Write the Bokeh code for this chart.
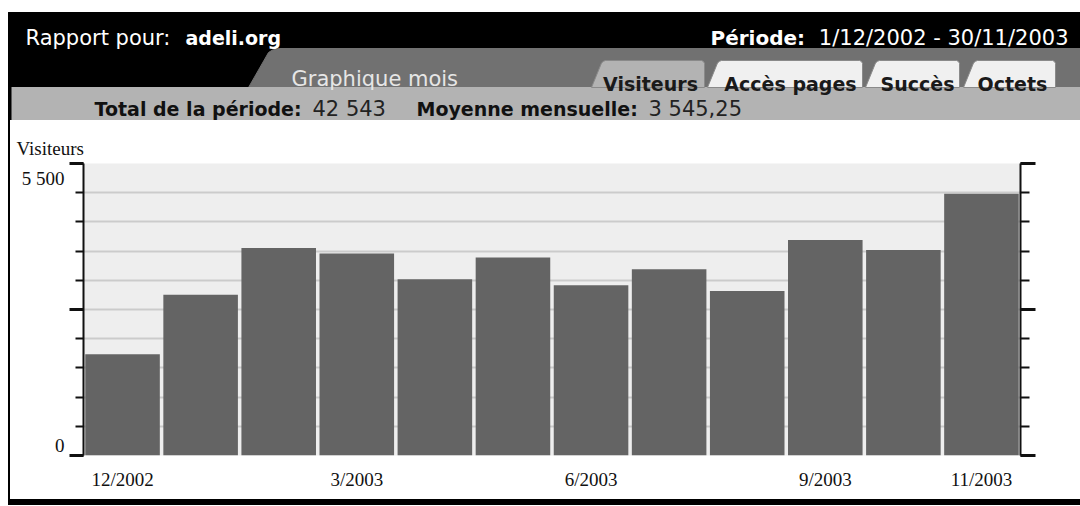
from bokeh.plotting import figure
from bokeh.models import Range1d, FixedTicker, LinearAxis, Spacer
from bokeh.layouts import column, row
from bokeh.core.properties import value
from bokeh.embed import file_html
from bokeh.resources import INLINE

# ---------------- data ----------------
months = ["12/2002", "1/2003", "2/2003", "3/2003", "4/2003", "5/2003",
          "6/2003", "7/2003", "8/2003", "9/2003", "10/2003", "11/2003"]
visitors = [1905, 3030, 3910, 3805, 3320, 3730, 3205, 3510, 3100, 4060, 3870, 4930]
shown_month_labels = ["12/2002", "3/2003", "6/2003", "9/2003", "11/2003"]
y_max = 5500
y_major = [0, 2750, 5500]
y_minor = [0, 550, 1100, 1650, 2200, 2750, 3300, 3850, 4400, 4950, 5500]
y_grid = [550, 1100, 1650, 2200, 2750, 3300, 3850, 4400, 4950]
# tick labels sit just inside the axis ends (below the top tick, above the zero tick)
y_label_pos = [180, 5218]
y_label_text = ["0", "5 500"]
y_title = "Visiteurs"

report_label = "Rapport pour:"
report_site = "adeli.org"
period_label = "Période:"
period_value = "1/12/2002 - 30/11/2003"
view_tab = "Graphique mois"
tabs = ["Visiteurs", "Accès pages", "Succès", "Octets"]
total_label = "Total de la période:"
total_value = "42 543"
mean_label = "Moyenne mensuelle:"
mean_value = "3 545,25"

SANS = "DejaVu Sans"
SERIF = "Liberation Serif"

# ---------------- header ----------------
W = 1080
HH = 120
h = figure(width=W, height=HH, x_range=Range1d(0, W), y_range=Range1d(HH, 0),
           output_backend="svg", toolbar_location=None, min_border=0,
           x_axis_location=None, y_axis_location=None,
           background_fill_color="white", border_fill_color="white",
           outline_line_color=None)
h.grid.visible = False

# black header + tab row
h.quad(left=8, right=W, top=12, bottom=87, color="black")
# grey region of the tab row
h.patch([248, 268, 272, 279, W, W], [87, 52, 49.5, 48, 48, 87], color="#717171")
# grey band
h.quad(left=8, right=W, top=87, bottom=HH, color="#b3b3b3")
# left border
h.quad(left=8, right=10.5, top=12, bottom=HH, color="black")

def tab_shape(L, R, top=60, bot=87):
    return ([L, L + 10, L + 12, L + 14, R - 3, R - 1, R, R],
            [bot, top + 2.5, top + 0.8, top, top, top + 1, top + 3, bot])

tab_edges = [(591, 704), (707, 862), (865, 959), (963, 1055)]
tab_colors = ["#b3b3b3", "#f0f0f0", "#f0f0f0", "#f0f0f0"]
txs, tys = [], []
for L, R in tab_edges:
    a, b = tab_shape(L, R)
    txs.append(a)
    tys.append(b)
h.patches(txs, tys, fill_color=tab_colors, line_color="#8a8a8a", line_width=1)

tab_centres = [650, 790, 917, 1012]
h.text(x=tab_centres, y=[83.5] * 4, text=tabs,
       text_font=value(SANS), text_font_size=value("19px"), text_font_style="bold",
       text_color="#1a1a1a", text_align="center", text_baseline="alphabetic")

# header texts
h.text(x=[25], y=[37], text=[report_label], text_font=value(SANS),
       text_font_size=value("21px"), text_color="white", text_baseline="alphabetic")
h.text(x=[185], y=[37], text=[report_site], text_font=value(SANS),
       text_font_size=value("19px"), text_font_style="bold", text_color="white",
       text_baseline="alphabetic")
h.text(x=[710], y=[37], text=[period_label], text_font=value(SANS),
       text_font_size=value("20px"), text_font_style="bold", text_color="white",
       text_baseline="alphabetic")
h.text(x=[1068], y=[37], text=[period_value], text_font=value(SANS),
       text_font_size=value("21px"), text_color="white", text_align="right",
       text_baseline="alphabetic")
h.text(x=[291], y=[78], text=[view_tab], text_font=value(SANS),
       text_font_size=value("21px"), text_color="#e6e6e6", text_baseline="alphabetic")

# band texts
h.text(x=[94, 416], y=[108, 108], text=[total_label, mean_label], text_font=value(SANS),
       text_font_size=value("19px"), text_font_style="bold", text_color="#111111",
       text_baseline="alphabetic")
h.text(x=[312, 648], y=[108, 108], text=[total_value, mean_value], text_font=value(SANS),
       text_font_size=value("21px"), text_color="#222222", text_baseline="alphabetic")

# ---------------- chart ----------------
CW = 1070
CH = 379
xs = list(range(len(months)))
p = figure(width=CW, height=CH,
           x_range=Range1d(-0.5, len(months) - 0.5),
           y_range=Range1d(0, y_max),
           output_backend="svg", toolbar_location=None,
           min_border_left=73, min_border_right=60, min_border_top=43, min_border_bottom=44,
           background_fill_color="#eeeeee", border_fill_color="white",
           outline_line_color=None)

p.vbar(x=xs, top=visitors, width=0.955, fill_color="#646464", line_color=None)

p.title.text = y_title
p.title.align = "left"
p.title.offset = -67
p.title.standoff = 10
p.title.text_font = SERIF
p.title.text_font_size = "19px"
p.title.text_font_style = "normal"
p.title.text_color = "#111111"

p.xgrid.visible = False
p.ygrid.ticker = FixedTicker(ticks=y_grid)
p.ygrid.grid_line_color = "#cbcbcb"
p.ygrid.grid_line_width = 2

def style_ticks(ax, major_out, minor_out):
    ax.ticker = FixedTicker(ticks=y_major, minor_ticks=y_minor)
    ax.major_label_text_color = None
    ax.major_label_text_font_size = "1px"
    ax.major_label_standoff = 0
    ax.axis_line_color = "#111111"
    ax.axis_line_width = 2
    ax.major_tick_line_color = "#111111"
    ax.major_tick_line_width = 3
    ax.minor_tick_line_color = "#111111"
    ax.minor_tick_line_width = 2
    ax.major_tick_in = 0
    ax.minor_tick_in = 0
    ax.major_tick_out = major_out
    ax.minor_tick_out = minor_out

style_ticks(p.yaxis[0], 14, 8)

label_axis = LinearAxis(ticker=FixedTicker(ticks=y_label_pos, minor_ticks=[]))
label_axis.major_label_overrides = dict(zip(y_label_pos, y_label_text))
label_axis.axis_line_color = None
label_axis.major_tick_line_color = None
label_axis.minor_tick_line_color = None
label_axis.major_tick_out = 0
label_axis.major_tick_in = 0
label_axis.minor_tick_out = 0
label_axis.minor_tick_in = 0
label_axis.major_label_standoff = 5
label_axis.major_label_text_font = SERIF
label_axis.major_label_text_font_size = "19px"
label_axis.major_label_text_color = "#111111"
p.add_layout(label_axis, "left")

right_axis = LinearAxis()
style_ticks(right_axis, 15, 9)
p.add_layout(right_axis, "right")

xa = p.xaxis[0]
xa.ticker = FixedTicker(ticks=[months.index(m) for m in shown_month_labels], minor_ticks=[])
xa.major_label_overrides = {months.index(m): m for m in shown_month_labels}
xa.axis_line_color = None
xa.major_tick_line_color = None
xa.minor_tick_line_color = None
xa.major_tick_out = 0
xa.major_label_standoff = 13
xa.major_label_text_font = SERIF
xa.major_label_text_font_size = "19px"
xa.major_label_text_color = "#111111"

left_gap = Spacer(width=8, height=CH)
left_border = Spacer(width=2, height=CH, styles={"background-color": "#000000"})
bottom_gap = Spacer(width=8, height=6)
bottom_bar = Spacer(width=W - 8, height=6, styles={"background-color": "#000000"})

layout = column(h, row(left_gap, left_border, p), row(bottom_gap, bottom_bar))
open("out.html", "w").write(file_html(layout, INLINE))
